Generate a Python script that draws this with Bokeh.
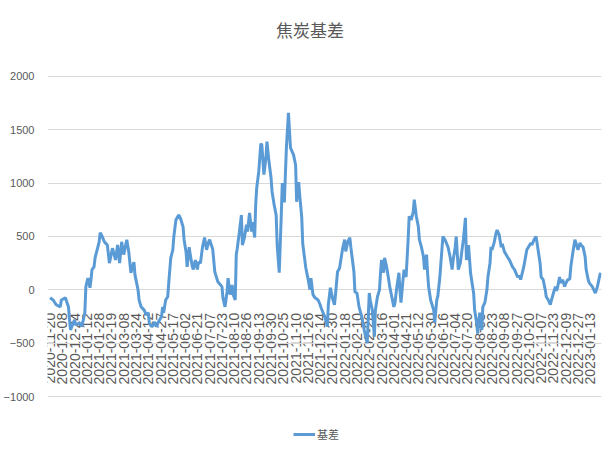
import math
from bokeh.plotting import figure
from bokeh.models import FixedTicker, Range1d, Legend, LegendItem, Label
from bokeh.core.properties import value
from bokeh.embed import file_html
from bokeh.resources import INLINE

title_text = "焦炭基差"
series_name = "基差"

# category labels shown every 12 trading days
tick_labels = [
    "2020-11-20", "2020-12-08", "2020-12-24", "2021-01-12", "2021-01-28",
    "2021-02-19", "2021-03-08", "2021-03-24", "2021-04-12", "2021-04-27",
    "2021-05-17", "2021-06-02", "2021-06-21", "2021-07-07", "2021-07-23",
    "2021-08-10", "2021-08-26", "2021-09-13", "2021-09-30", "2021-10-25",
    "2021-11-10", "2021-11-26", "2021-12-14", "2021-12-30", "2022-01-18",
    "2022-02-10", "2022-02-28", "2022-03-16", "2022-04-01", "2022-04-21",
    "2022-05-12", "2022-05-30", "2022-06-16", "2022-07-04", "2022-07-20",
    "2022-08-05", "2022-08-23", "2022-09-08", "2022-09-27", "2022-10-20",
    "2022-11-07", "2022-11-23", "2022-12-09", "2022-12-27", "2023-01-13",
]
label_step = 12

# trading-day index (0 = 2020-11-20) and basis value
trading_day = [
    0, 3, 6, 10, 11, 15, 18, 19, 20, 24, 25, 29, 31, 34, 35, 37, 39, 40, 41, 43,
    44, 46, 48, 49, 51, 53, 54, 56, 58, 61, 64, 66, 68, 70, 72, 75, 77, 79, 82, 83,
    86, 87, 89, 92, 94, 96, 97, 99, 101, 102, 104, 106, 109, 110, 111, 113, 115, 116, 118, 120,
    121, 123, 125, 126, 128, 130, 131, 133, 134, 136, 137, 139, 140, 142, 144, 145, 147, 149, 151, 153,
    155, 156, 159, 161, 164, 168, 169, 171, 173, 174, 176, 178, 179, 181, 182, 183, 185, 187, 188, 190,
    192, 193, 195, 197, 198, 200, 201, 202, 204, 206, 207, 209, 211, 212, 214, 216, 217, 219, 221, 222,
    224, 226, 227, 229, 231, 233, 235, 238, 240, 241, 243, 244, 246, 247, 250, 252, 254, 255, 257, 259,
    262, 264, 265, 269, 271, 272, 274, 276, 278, 279, 281, 283, 284, 286, 288, 289, 291, 293, 294, 297,
    298, 300, 302, 305, 307, 310, 312, 313, 315, 317, 318, 320, 322, 323, 324, 326, 327, 329, 331, 332,
    334, 336, 337, 339, 341, 342, 343, 345, 346, 348, 350, 351, 353, 355, 356, 358, 360, 361, 363, 365,
    366, 368, 369, 370, 372, 375, 376, 378, 379, 381, 383, 384, 386, 389, 391, 393, 394, 396, 397, 399,
    401, 403, 404, 406, 407, 409, 411, 412, 414, 415, 417, 418, 420, 422, 423, 425, 427, 428, 430, 431,
    432, 434, 436, 437, 439, 441, 442, 444, 447, 449, 452, 454, 457, 459, 460, 463, 466, 470, 471, 473,
    475, 476, 477, 479, 480, 482, 484, 485, 487, 489, 490, 492, 494, 495, 496, 498, 499, 501, 503, 504,
    506, 508, 509, 511, 513, 514, 516, 518, 519, 521, 523, 524, 526, 527, 530, 533, 535, 537, 538,
]
basis = [
    -75, -95, -140, -160, -95, -75, -160, -280, -375, -280, -330, -310, -345, -215, 30, 110, 20, 95, 190, 215,
    300, 375, 450, 535, 500, 450, 440, 420, 250, 390, 280, 420, 250, 450, 330, 470, 350, 160, 260, 140,
    0, -95, -160, -190, -235, -215, -310, -345, -330, -300, -345, -300, -250, -160, -215, -95, -65, 65, 300, 375,
    500, 655, 690, 700, 655, 590, 470, 350, 215, 400, 330, 220, 190, 280, 190, 260, 250, 400, 490, 375,
    450, 470, 380, 170, 75, 30, -75, -160, -20, 110, -45, 45, -45, -95, 330, 390, 540, 700, 420, 490,
    610, 545, 720, 545, 635, 490, 800, 955, 1110, 1370, 1360, 1080, 1240, 1390, 1200, 1050, 920, 800, 700, 420,
    160, 700, 1000, 820, 1330, 1660, 1330, 1265, 1170, 825, 1010, 890, 680, 430, 205, 110, 0, 110, -45, -75,
    -95, -140, -170, -265, -345, -140, 20, -75, -140, -45, 170, 205, 265, 390, 470, 360, 450, 490, 400, 170,
    -20, -30, -160, -265, -375, -500, -30, -100, -190, -440, -190, -65, 0, 160, 280, 160, 300, 215, 95, 30,
    -65, -160, -130, 30, 160, 0, -120, 95, 190, 120, 470, 690, 655, 730, 845, 690, 590, 470, 400, 310,
    190, 330, 160, 30, -95, -190, -310, -95, -60, 120, 375, 500, 470, 400, 310, 190, 280, 400, 500, 190,
    250, 400, 470, 675, 280, 420, 160, 95, -30, -190, -310, -410, -215, -375, -160, -120, 0, 120, 250, 400,
    375, 440, 535, 560, 515, 400, 430, 360, 310, 280, 215, 190, 120, 130, 95, 215, 375, 440, 420, 470,
    500, 440, 375, 250, 120, 95, 0, -65, -95, -140, -100, -30, 30, -10, 20, 120, 65, 95, 30, 60,
    95, 100, 215, 350, 470, 440, 375, 440, 420, 400, 310, 190, 95, 65, 30, -30, 30, 120, 160,
]
y_ticks = [-1000, -500, 0, 500, 1000, 1500, 2000]

GREY = "#595959"
GRID = "#d9d9d9"
BLUE = "#5B9BD5"

p = figure(
    width=607, height=442, title=None,
    x_range=Range1d(-2.5, 539), y_range=Range1d(-1431, 2712),
    output_backend="svg", toolbar_location=None,
    min_border_left=36, min_border_right=6, min_border_top=0, min_border_bottom=0,
    outline_line_color=None,
)

# chart title (placed in the empty space above the 2000 gridline)
p.add_layout(Label(
    x=254, y=2440, text=title_text, text_align="center", text_baseline="middle",
    text_font="Noto Sans CJK SC", text_font_size="17px", text_color=GREY,
))

r = p.line(trading_day, basis, line_color=BLUE, line_width=3)

# grid
p.xgrid.visible = False
p.ygrid.ticker = FixedTicker(ticks=y_ticks)
p.ygrid.grid_line_color = GRID
p.ygrid.grid_line_width = 1

# y axis
p.yaxis.ticker = FixedTicker(ticks=y_ticks)
p.yaxis.axis_line_color = None
p.yaxis.major_tick_line_color = None
p.yaxis.minor_tick_line_color = None
p.yaxis.major_label_text_font = "Liberation Sans"
p.yaxis.major_label_text_font_size = "11px"
p.yaxis.major_label_text_color = GREY
p.yaxis.major_label_standoff = 7

# x axis at value 0
tick_pos = [i * label_step for i in range(len(tick_labels))]
xa = p.xaxis[0]
xa.ticker = FixedTicker(ticks=tick_pos)
xa.major_label_overrides = {t: lab for t, lab in zip(tick_pos, tick_labels)}
xa.major_label_orientation = math.pi / 2
xa.fixed_location = 0
xa.axis_line_color = None
xa.major_tick_line_color = None
xa.minor_tick_line_color = None
xa.major_label_text_font = "Liberation Sans"
xa.major_label_text_font_size = "14px"
xa.major_label_text_color = GREY
xa.major_label_standoff = 17
xa.level = "underlay"

legend = Legend(
    items=[LegendItem(label=series_name, renderers=[r])],
    location=(246, 0), orientation="horizontal",
    border_line_color=None, background_fill_alpha=0,
    label_text_font="Noto Sans CJK SC", label_text_font_size="11px", label_text_color=GREY,
    glyph_width=22, glyph_height=10, label_height=12, label_standoff=2,
    padding=0, margin=0, spacing=0,
)
p.add_layout(legend, "center")

open("out.html", "w").write(file_html(p, INLINE))
